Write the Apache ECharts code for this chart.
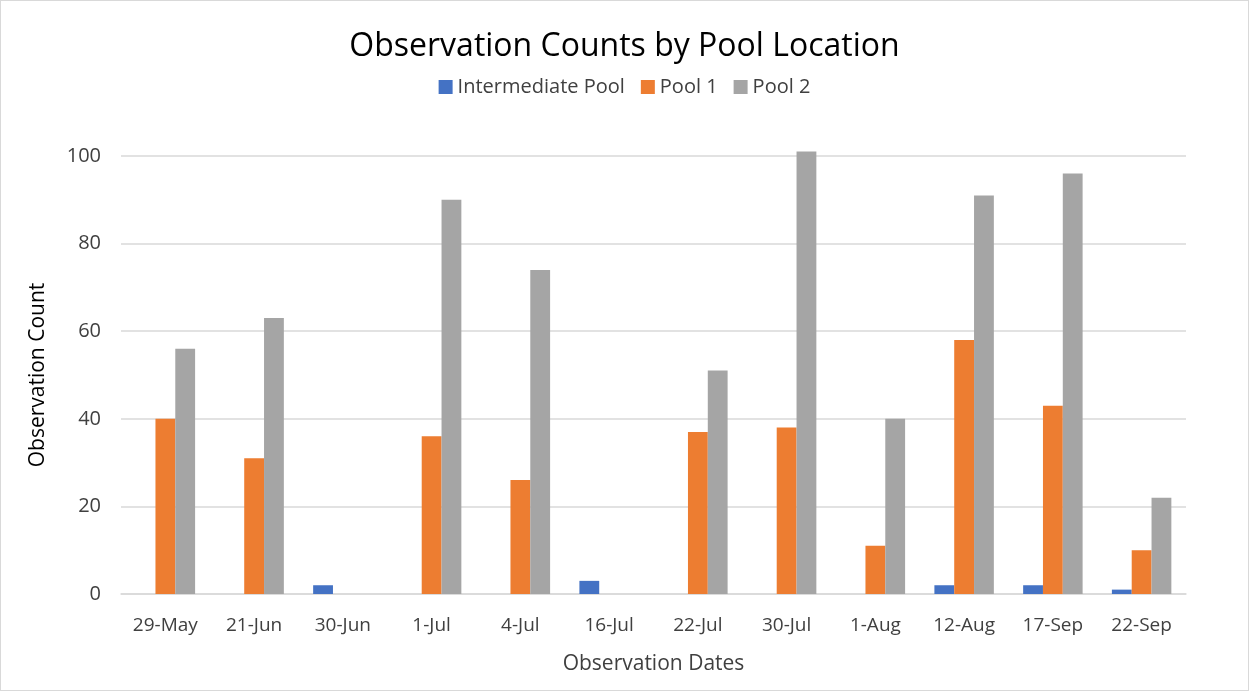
<!DOCTYPE html>
<html>
<head>
<meta charset="utf-8">
<script src="https://cdn.jsdelivr.net/npm/echarts@6/dist/echarts.min.js"></script>
<style>
  html, body { margin: 0; padding: 0; background: #fff; }
  #chart { width: 1247px; height: 689px; border: 1px solid #d9d9d9; }
</style>
</head>
<body>
<div id="chart"></div>
<script>
const dates = ['29-May', '21-Jun', '30-Jun', '1-Jul', '4-Jul', '16-Jul', '22-Jul', '30-Jul', '1-Aug', '12-Aug', '17-Sep', '22-Sep']
const intermediatePool = [0, 0, 2, 0, 0, 3, 0, 0, 0, 2, 2, 1]
const pool1 = [40, 31, 0, 36, 26, 0, 37, 38, 11, 58, 43, 10]
const pool2 = [56, 63, 0, 90, 74, 0, 51, 101, 40, 91, 96, 22]

const fontFamily = '"Open Sans", "Noto Sans", sans-serif'
const chart = echarts.init(document.getElementById('chart'))

const option = {
  animation: false,
  textStyle: { fontFamily: fontFamily },
  title: {
    text: 'Observation Counts by Pool Location',
    left: 'center',
    top: 25,
    textStyle: { fontSize: 32, fontWeight: 'normal', color: '#000', fontFamily: fontFamily }
  },
  legend: {
    top: 71,
    left: 'center',
    itemWidth: 14,
    itemHeight: 14,
    itemGap: 16,
    icon: 'rect',
    textStyle: { fontSize: 20, color: '#404040', fontFamily: fontFamily }
  },
  grid: { left: 120, right: 62, top: 155, bottom: 96 },
  xAxis: {
    type: 'category',
    data: dates,
    name: 'Observation Dates',
    nameLocation: 'middle',
    nameGap: 60,
    nameTextStyle: { fontSize: 21, color: '#404040' },
    axisLine: { lineStyle: { color: '#d9d9d9', width: 1.5 } },
    axisTick: { show: false },
    axisLabel: { interval: 0, fontSize: 19, color: '#404040', margin: 22 }
  },
  yAxis: {
    type: 'value',
    min: 0,
    max: 100,
    interval: 20,
    name: 'Observation Count',
    nameLocation: 'middle',
    nameGap: 72,
    nameTextStyle: { fontSize: 21, color: '#000' },
    axisLine: { show: false },
    axisTick: { show: false },
    axisLabel: { fontSize: 20, color: '#404040', margin: 20 },
    splitLine: { lineStyle: { color: '#d9d9d9', width: 1.5 } }
  },
  series: [
    { name: 'Intermediate Pool', type: 'bar', data: intermediatePool, clip: false, barGap: '0%', barCategoryGap: '33%', itemStyle: { color: '#4472c4' } },
    { name: 'Pool 1', type: 'bar', data: pool1, clip: false, barGap: '0%', barCategoryGap: '33%', itemStyle: { color: '#ed7d31' } },
    { name: 'Pool 2', type: 'bar', data: pool2, clip: false, barGap: '0%', barCategoryGap: '33%', itemStyle: { color: '#a5a5a5' } }
  ]
}

chart.setOption(option)
</script>
</body>
</html>
